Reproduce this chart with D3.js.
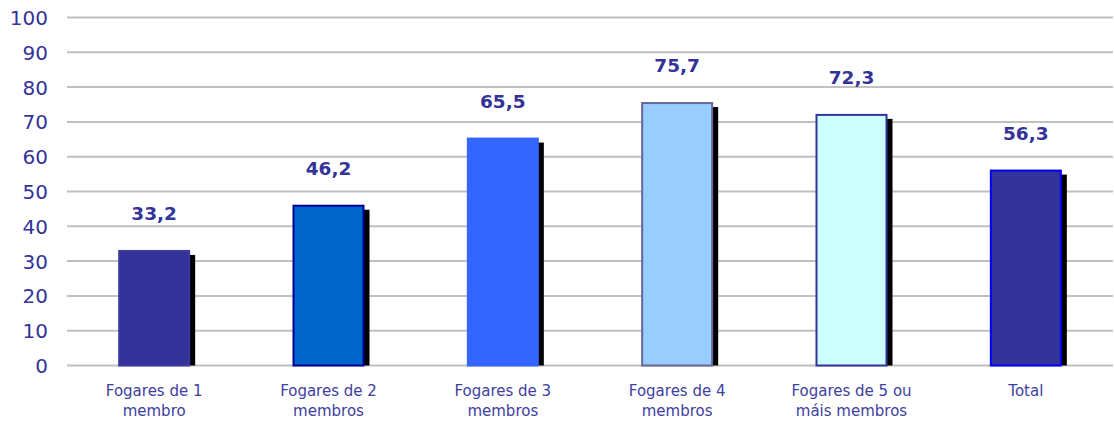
<!DOCTYPE html>
<html><head><meta charset="utf-8">
<script src="https://cdn.jsdelivr.net/npm/d3@7"></script>
<style>body{margin:0;background:#fff}svg{display:block}</style>
</head><body>
<svg id="c" width="1114" height="421"></svg>
<script>
const categories = [["Fogares de 1","membro"],["Fogares de 2","membros"],["Fogares de 3","membros"],["Fogares de 4","membros"],["Fogares de 5 ou","máis membros"],["Total"]];
const values = [33.2, 46.2, 65.5, 75.7, 72.3, 56.3];
const valueLabels = ["33,2","46,2","65,5","75,7","72,3","56,3"];
const yTicks = [0,10,20,30,40,50,60,70,80,90,100];
const fills = ["#333399","#0066CC","#3366FF","#99CCFF","#CCFFFF","#333399"];
const strokes = ["#3a3aa0","#000099","#3366FF","#666699","#333399","#0000FF"];

const svg = d3.select("#c");
const x = d3.scaleBand().domain(d3.range(values.length)).range([67,1113]).paddingInner(0.587).paddingOuter(0.2935);
const y = d3.scaleLinear().domain([0,100]).range([365.5,17.5]);
const font = "DejaVu Sans, Verdana, sans-serif";

// gridlines
svg.append("g").selectAll("line").data(yTicks).join("line")
  .attr("x1",67).attr("x2",1113).attr("y1",d=>y(d)).attr("y2",d=>y(d))
  .attr("stroke","#c0c0c0").attr("stroke-width",2);

// y axis labels
const yAxis = d3.axisLeft(y).tickValues(yTicks).tickSize(0).tickPadding(0);
const yg = svg.append("g").attr("transform","translate(48,0)").call(yAxis);
yg.select(".domain").remove();
yg.selectAll("text").attr("font-family",font).attr("font-size",20).attr("fill","#333399").attr("dy","0.35em");

// shadows
const g = svg.append("g");
g.selectAll("rect.sh").data(values).join("rect").attr("class","sh")
  .attr("x",(d,i)=>x(i)+5).attr("y",d=>y(d)+5)
  .attr("width",x.bandwidth()).attr("height",d=>y(0)-y(d)-5)
  .attr("fill","#000");
// bars
g.selectAll("rect.bar").data(values).join("rect").attr("class","bar")
  .attr("x",(d,i)=>x(i)+1).attr("y",d=>y(d)+1)
  .attr("width",x.bandwidth()-2).attr("height",d=>y(0)-y(d)-1)
  .attr("fill",(d,i)=>fills[i]).attr("stroke",(d,i)=>strokes[i]).attr("stroke-width",2);

// value labels
svg.append("g").selectAll("text").data(values).join("text")
  .attr("x",(d,i)=>x(i)+x.bandwidth()/2).attr("y",d=>y(d)-30)
  .attr("text-anchor","middle").attr("font-family",font).attr("font-weight","bold")
  .attr("font-size",18.5).attr("fill","#333399").text((d,i)=>valueLabels[i]);

// category labels
const cl = svg.append("g").selectAll("text").data(categories).join("text")
  .attr("x",(d,i)=>x(i)+x.bandwidth()/2).attr("y",396)
  .attr("text-anchor","middle").attr("font-family",font)
  .attr("font-size",15).attr("fill","#4040a0");
cl.each(function(d,i){
  const t=d3.select(this);
  d.forEach((s,j)=>t.append("tspan").attr("x",x(i)+x.bandwidth()/2).attr("dy",j?20:0).text(s));
});
</script>
</body></html>
